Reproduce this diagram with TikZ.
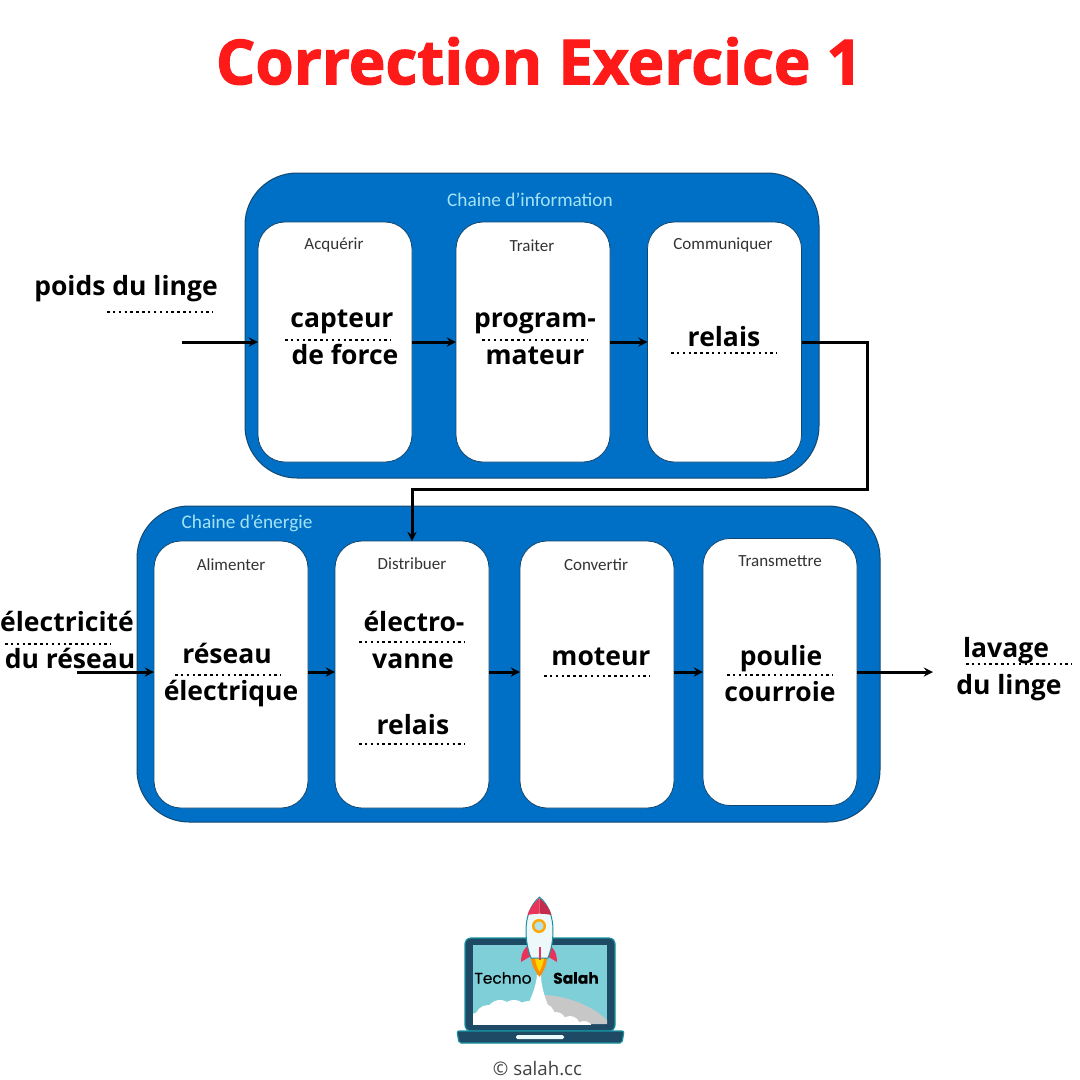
\documentclass[tikz,border=0pt]{standalone}
\usepackage{fontspec}
\setmainfont{Open Sans}
\newfontfamily\titlefont[UprightFont=* Bold, UprightFeatures={FakeBold=1.8}]{Open Sans}
\newfontfamily\carlitofont{Carlito}
\newfontfamily\logofont[FakeBold=0.3]{Poppins}
\usetikzlibrary{positioning}
\definecolor{panelblue}{HTML}{0070C6}
\definecolor{paneledge}{HTML}{14476F}
\definecolor{panelink}{HTML}{A4E3F6}
\definecolor{titlered}{HTML}{FF1A1A}
\definecolor{laptopdark}{HTML}{1E4A66}
\definecolor{laptopteal}{HTML}{17919F}
\definecolor{screenblue}{HTML}{7FCFD9}
\definecolor{rocketred}{HTML}{E8345A}
\definecolor{rocketdark}{HTML}{C42C4E}
\begin{document}
\begin{tikzpicture}[
    x=1pt, y=-1pt,
    node distance=190pt,
    panel/.style={rectangle, draw=paneledge, line width=1pt, fill=panelblue, rounded corners=52pt, outer sep=0pt},
    stepbox/.style={rectangle, draw=paneledge, line width=0.8pt, fill=white, rounded corners=27pt, minimum width=154pt, outer sep=0pt},
    steptitle/.style={font=\carlitofont\fontsize{17}{19}\selectfont, text=black!80},
    paneltitle/.style={font=\carlitofont\fontsize{19.3}{21}\selectfont, text=panelink},
    answer/.style={font=\fontsize{26.5}{30}\selectfont\bfseries, text=black, inner sep=0pt, text height=23pt, text depth=5pt},
    arrow/.style={-stealth, line width=3pt, black},
    dotline/.style={line width=2.5pt, dash pattern=on 2.5pt off 3.35pt, black}
]
    \useasboundingbox (0,0) rectangle (1080,1080);
    \node[font=\titlefont\fontsize{62}{68}\selectfont, text=titlered] (title) at (539,61) {Correction Exercice 1};

    \node[panel, minimum width=574pt, minimum height=305pt] (info) at (532,325.5) {};
    \node[panel, minimum width=743pt, minimum height=316pt] (energy) at (508.5,664) {};
    \node[paneltitle] (infotitle) at (530,200) {Chaine d’information};
    \node[paneltitle] (energytitle) at (247,523) {Chaine d’énergie};

    \node[stepbox, minimum height=240pt] (acq) at (335,342) {};
    \node[stepbox, minimum height=240pt, right of=acq, node distance=198pt] (traiter) {};
    \node[stepbox, minimum height=240pt, right of=traiter, node distance=191.5pt] (comm) {};
    \node[stepbox, minimum height=267pt] (alim) at (231,674.5) {};
    \node[stepbox, minimum height=267pt, right of=alim, node distance=181pt] (dist) {};
    \node[stepbox, minimum height=267pt, right of=dist, node distance=185pt] (conv) {};
    \node[stepbox, minimum height=267pt, right of=conv, node distance=183pt, yshift=2.5pt] (trans) {};

    \node[steptitle] (acqtitle) at (334,245.5) {Acquérir};
    \node[steptitle] (traitertitle) at (532,245.5) {Traiter};
    \node[steptitle] (commtitle) at (723,245.5) {Communiquer};
    \node[steptitle] (alimtitle) at (231,564.5) {Alimenter};
    \node[steptitle] (disttitle) at (412,563.5) {Distribuer};
    \node[steptitle] (convtitle) at (596,564.5) {Convertir};
    \node[steptitle] (transtitle) at (780,561.5) {Transmettre};

    \coordinate (poids) at (182,342);
    \coordinate (turn) at (867,489);
    \coordinate (elec) at (77,672);
    \coordinate (lavage) at (933,672);

    \draw[arrow] (poids) -- (acq.west);
    \draw[arrow] (acq) -- (traiter);
    \draw[arrow] (traiter) -- (comm);
    \draw[arrow] (comm.east) -| (turn) -| (dist.north);
    \draw[arrow] (elec) -- (elec -| alim.west);
    \draw[arrow] (elec -| alim.east) -- (elec -| dist.west);
    \draw[arrow] (elec -| dist.east) -- (elec -| conv.west);
    \draw[arrow] (elec -| conv.east) -- (elec -| trans.west);
    \draw[arrow] (elec -| trans.east) -- (lavage);

    \node[answer] (poidstext) at (126,286) {poids du linge};
    \node[answer] (capteur) at (342,318) {capteur};
    \node[answer] (force) at (345,355) {de force};
    \node[answer] (program) at (535,318) {program-};
    \node[answer] (mateur) at (535,355) {mateur};
    \node[answer] (relaisa) at (724,337) {relais};
    \node[answer] (electricite) at (67,622) {électricité};
    \node[answer] (dureseau) at (70,659) {du réseau};
    \node[answer] (reseau) at (227,654) {réseau};
    \node[answer] (electrique) at (231,691) {électrique};
    \node[answer] (electro) at (414,622) {électro-};
    \node[answer] (vanne) at (413,659) {vanne};
    \node[answer] (relaisb) at (413,725) {relais};
    \node[answer] (moteur) at (601,656) {moteur};
    \node[answer] (poulie) at (781,656) {poulie};
    \node[answer] (courroie) at (780,692) {courroie};
    \node[answer] (lavagetext) at (1006,648) {lavage};
    \node[answer] (dulinge) at (1009,685) {du linge};

    \draw[dotline] (107,312) -- (213,312);
    \draw[dotline] (285,340) -- (391,340);
    \draw[dotline] (482,340) -- (588,340);
    \draw[dotline] (671,353) -- (777,353);
    \draw[dotline] (5,644) -- (111,644);
    \draw[dotline] (175,675) -- (281,675);
    \draw[dotline] (359,642) -- (465,642);
    \draw[dotline] (359,744) -- (465,744);
    \draw[dotline] (544,676) -- (650,676);
    \draw[dotline] (727,675) -- (833,675);
    \draw[dotline] (966,664) -- (1072,664);

    \draw[fill=laptopdark, draw=laptopteal, line width=1.2pt, rounded corners=6pt] (465,1031) -- (465,938) -- (615,938) -- (615,1031) -- cycle;
    \fill[screenblue] (473,945) rectangle (607,1024);
    \begin{scope}
        \clip (473,945) rectangle (607,1024);
        \fill[black!22] (545,995) .. controls (565,996) and (590,1004) .. (607,1020) -- (607,1024) -- (540,1024) -- cycle;
        \fill[white] (537,975) -- (541,975) .. controls (541,985) and (544,995) .. (549,1008) -- (526,1008) .. controls (533,995) and (536,985) .. cycle;
        \foreach \cx/\cy/\cr in {476/1024/11, 488/1018/13, 500/1014/14, 514/1014/14, 528/1014/13, 542/1016/13, 556/1022/10, 570/1026/10, 584/1030/9}
            \fill[white] (\cx,\cy) circle[radius=\cr];
    \end{scope}
    \draw[fill=laptopdark, draw=laptopteal, line width=1.2pt, rounded corners=2pt] (457,1031) -- (624,1031) -- (622,1043) -- (459,1043) -- cycle;
    \fill[white!85!screenblue, rounded corners=1.5pt] (516,1035) rectangle (564,1039);

    \fill[rocketred] (521,962) .. controls (521,952) and (525,948) .. (529,944) -- (531,956) -- cycle;
    \fill[rocketred] (557,962) .. controls (557,952) and (553,948) .. (549,944) -- (547,956) -- cycle;
    \fill[orange!90!yellow] (531,956) -- (547,956) .. controls (547,966) and (543,972) .. (539.5,977) .. controls (536,972) and (531,966) .. cycle;
    \fill[yellow!75!orange] (535,956) -- (544,956) .. controls (544,964) and (541,968) .. (539.5,972) .. controls (538,968) and (535,964) .. cycle;
    \draw[fill=white!85!screenblue, draw=laptopteal, line width=1pt] (539.5,897) .. controls (530,905) and (526,918) .. (526,930) .. controls (526,942) and (528,950) .. (531,958) -- (548,958) .. controls (551,950) and (553,942) .. (553,930) .. controls (553,918) and (549,905) .. cycle;
    \fill[rocketred] (539.5,898) .. controls (533,904) and (529,909) .. (527.5,915) .. controls (532,914) and (536,913.7) .. (539.5,913.7) -- cycle;
    \fill[rocketdark] (539.5,898) .. controls (546,904) and (550,909) .. (551.5,915) .. controls (547,914) and (543,913.7) .. (539.5,913.7) -- cycle;
    \draw[draw=orange!70!yellow, line width=2.4pt, fill=screenblue!60!white] (539,926) circle[radius=5.8];
    \fill[rocketred] (538.5,947) rectangle (540.5,960);

    \node[font=\logofont\fontsize{15.5}{18}\selectfont, inner sep=0pt] (techno) at (503,978) {Techno};
    \node[font=\logofont\fontsize{15.5}{18}\selectfont\bfseries, inner sep=0pt] (salah) at (576,978) {Salah};
    \node[font=\fontsize{18.7}{22}\selectfont, text=black!75] (copyright) at (537.5,1069) {© salah.cc};
\end{tikzpicture}
\end{document}
